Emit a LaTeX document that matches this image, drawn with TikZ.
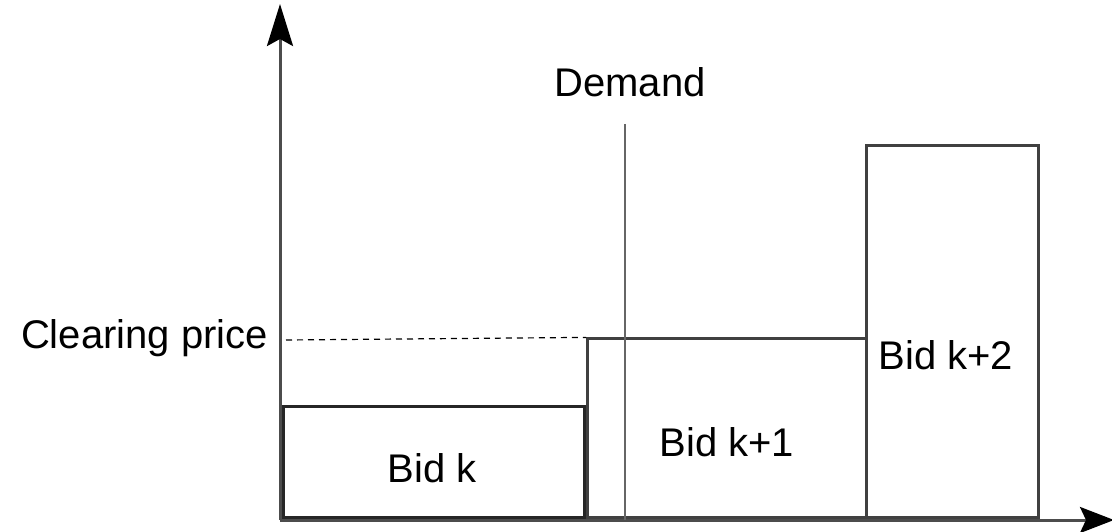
\documentclass[tikz,border=0pt]{standalone}
\usepackage{fontspec}
\setmainfont{Liberation Sans}
\usetikzlibrary{arrows.meta}
\begin{document}
\begin{tikzpicture}[x=1pt,y=-1pt,
  every node/.style={font=\fontsize{40}{45}\selectfont, inner sep=0pt},
  bidbox/.style={draw=black!75, line width=2.6pt, rectangle, anchor=south west, inner sep=0pt},
  axis/.style={draw=black!70, line width=3pt, -{Stealth[length=42pt,width=26pt,inset=7pt,fill=black,color=black]}},
  guide/.style={draw=black!60, line width=2.8pt},
  level/.style={draw=black, line width=1.2pt, dash pattern=on 6pt off 5pt}]
\useasboundingbox (0,0) rectangle (1112,532);

% axes
\coordinate (origin) at (280,520);
\coordinate (ytop) at (280,4);
\coordinate (xend) at (1114,520);
\draw[axis] (origin) -- (ytop);
\draw[axis, -{Stealth[length=34pt,width=26pt,inset=6pt,fill=black,color=black]}] (origin) -- (xend);

% bids
\node[bidbox, draw=black!85, minimum width=301pt, minimum height=111pt] (bidk) at (282,519) {};
\node[bidbox, minimum width=279pt, minimum height=179pt] (bidk1) at (586,519) {};
\node[bidbox, minimum width=172pt, minimum height=372pt] (bidk2) at (865,519) {};

% demand
\coordinate (dtop) at (625,124);
\coordinate (dbot) at (625,520);
\draw[guide] (dtop) -- (dbot);
\node (demand) at (630,82) {Demand};

% clearing price
\node[anchor=east] (clear) at (268,338) {Clearing price};
\coordinate (cpstart) at (286,340);
\draw[level] (cpstart) -- (bidk1.north west);

% labels
\node (lk) at (432,468) {Bid k};
\node (lk1) at (727,442) {Bid k+1};
\node (lk2) at (946,355) {Bid k+2};
\end{tikzpicture}
\end{document}
